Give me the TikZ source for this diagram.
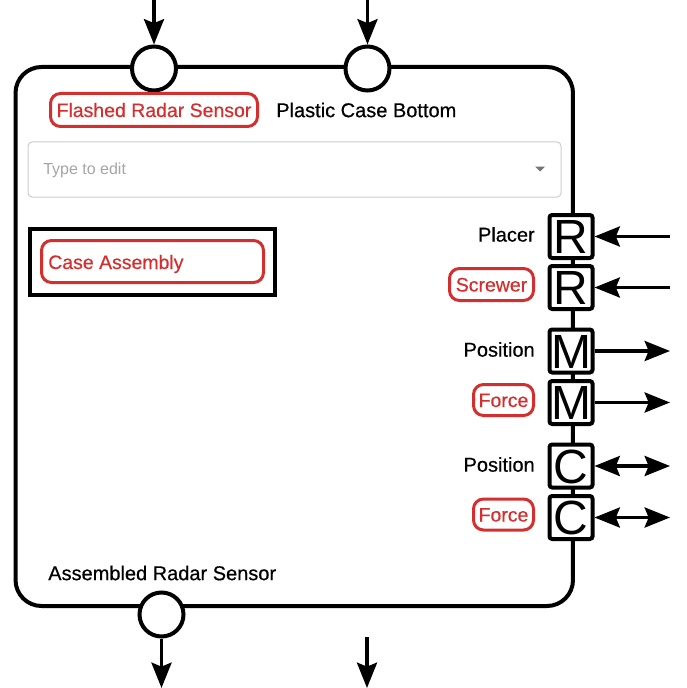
\documentclass[tikz,border=0pt]{standalone}
\usepackage{fontspec}
\setmainfont{Liberation Sans}
\newfontfamily\medfont{Liberation Sans}[FakeBold=0.5]
\usetikzlibrary{arrows.meta}
\definecolor{tagred}{RGB}{211,47,47}
\definecolor{ddgray}{RGB}{204,204,204}
\definecolor{phgray}{RGB}{165,165,165}
\definecolor{carrot}{RGB}{117,117,117}
\begin{document}
\begin{tikzpicture}[x=0.75pt,y=-0.75pt,
  lbl/.style={inner sep=0pt, text height=10.74pt, text depth=0pt, font=\medfont\fontsize{15}{18}\selectfont},
  tag/.style={draw=tagred, text=tagred, line width=2.25pt, rounded corners=7.5pt, inner sep=0pt,
    text height=10.5pt, text depth=0pt, font=\medfont\fontsize{14.6}{18}\selectfont},
  tagtext/.style={text=tagred, inner sep=0pt, text height=10.5pt, text depth=0pt, font=\medfont\fontsize{14.6}{18}\selectfont},
  mainbox/.style={draw, line width=3pt, rounded corners=19.5pt, inner sep=0pt, minimum width=418.1pt, minimum height=404.25pt},
  portc/.style={draw, circle, fill=white, line width=3pt, minimum size=33pt, inner sep=0pt},
  portbox/.style={draw, fill=white, line width=3pt, rounded corners=2pt, minimum size=32.25pt, inner sep=0pt,
    text height=25.8pt, text depth=0pt, font=\fontsize{36}{36}\selectfont},
  arr/.style={line width=2.75pt, -{Stealth[length=19pt,width=15pt,inset=3pt]}},
  darr/.style={line width=2.75pt, {Stealth[length=19pt,width=15pt,inset=3pt]}-{Stealth[length=19pt,width=15pt,inset=3pt]}}
]
\useasboundingbox (0,0) rectangle (686,688);

% main process box
\node[mainbox] (main) at (294.25,336.5) {};

% input/output circles
\node[portc] (c1) at (154,68.5) {};
\node[portc] (c2) at (367.5,68.5) {};
\node[portc] (c3) at (161.5,614.5) {};

\coordinate (t1) at (154,0);
\coordinate (t2) at (367.5,0);
\coordinate (b1) at (161.5,688);
\coordinate (b2s) at (367,637);
\coordinate (b2) at (367,688);
\draw[arr] (t1) -- (c1.north);
\draw[arr] (t2) -- (c2.north);
\draw[arr] (c3.south) -- (b1);
\draw[arr] (b2s) -- (b2);

% top labels
\node[tag, minimum width=155.25pt, minimum height=24.75pt] (flashed) at (154,110) {Flashed Radar Sensor};
\node[lbl, anchor=west] (plastic) at (276,110) {Plastic Case Bottom};

% dropdown
\node[draw=ddgray, line width=0.75pt, rounded corners=3pt, minimum width=399.75pt, minimum height=41.25pt, inner sep=0pt] (dd) at (294.5,169.5) {};
\node[anchor=west, inner sep=0pt, text height=8.6pt, text depth=0pt, text=phgray, font=\fontsize{12}{14}\selectfont] (ph) at (43,169.2) {Type to edit};
\fill[carrot] (535,166.5) -- (545,166.5) -- (540,171.5) -- cycle;

% case assembly
\node[draw, line width=3pt, minimum width=183.75pt, minimum height=49.5pt, inner sep=0pt] (casebox) at (152.5,262) {};
\node[tag, minimum width=166.5pt, minimum height=31.5pt] (casetag) at (152.5,261.5) {};
\node[tagtext, anchor=west] (casetext) at (48,262) {Case Assembly};

% bottom label
\node[lbl, anchor=west] (assembled) at (48,573) {Assembled Radar Sensor};

% port boxes
\node[portbox] (R1) at (571,236.5) {R};
\node[portbox] (R2) at (571,287.5) {R};
\node[portbox] (M1) at (571,351) {M};
\node[portbox] (M2) at (571,402.5) {M};
\node[portbox] (C1) at (571,466) {C};
\node[portbox] (C2) at (571,517.5) {C};

% port labels
\node[lbl, anchor=east] (placer) at (535,234.4) {Placer};
\node[tag, minimum width=63pt, minimum height=24pt] (screwer) at (491.5,284.5) {Screwer};
\node[lbl, anchor=east] (pos1) at (535,349.5) {Position};
\node[tag, minimum width=45pt, minimum height=23.25pt] (force1) at (503.5,400) {Force};
\node[lbl, anchor=east] (pos2) at (535,464.5) {Position};
\node[tag, minimum width=45pt, minimum height=23.25pt] (force2) at (503.5,514.5) {Force};

% right arrows
\coordinate (rR1) at (670,236.5);
\coordinate (rR2) at (670,287.5);
\coordinate (rM1) at (670,351);
\coordinate (rM2) at (670,402.5);
\coordinate (rC1) at (670,466);
\coordinate (rC2) at (670,517.5);
\draw[arr] (rR1) -- (R1.east);
\draw[arr] (rR2) -- (R2.east);
\draw[arr] (M1.east) -- (rM1);
\draw[arr] (M2.east) -- (rM2);
\draw[darr] (C1.east) -- (rC1);
\draw[darr] (C2.east) -- (rC2);
\end{tikzpicture}
\end{document}
